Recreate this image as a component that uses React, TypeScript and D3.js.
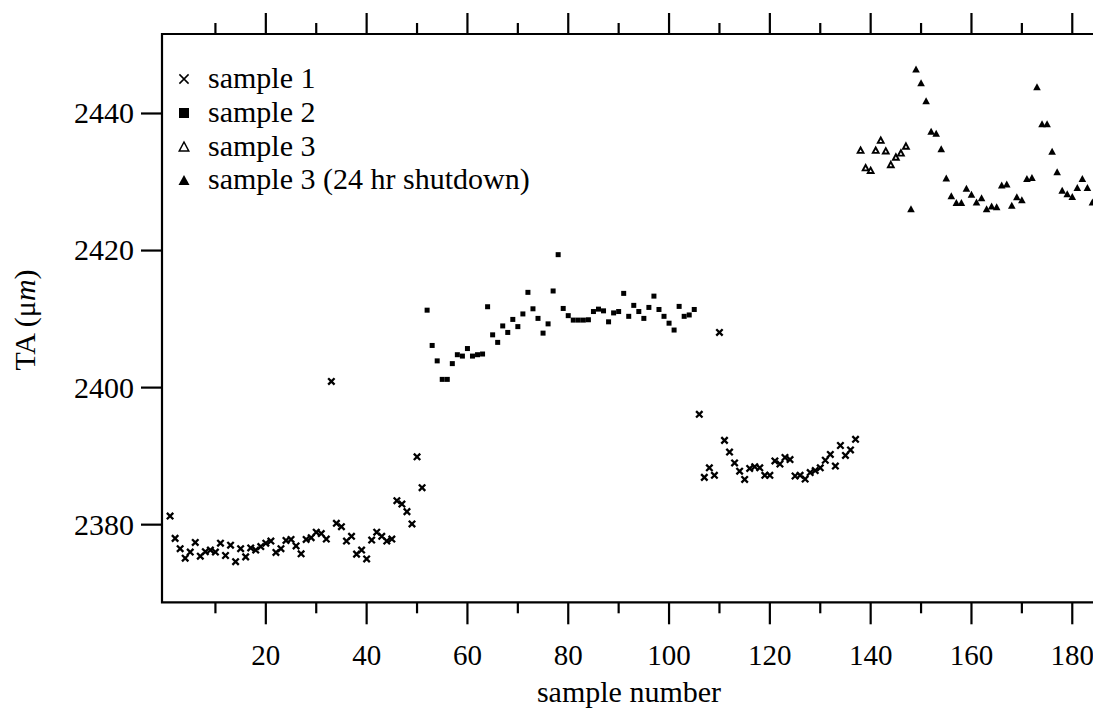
import React from "react";
import * as d3 from "d3";

// ---------- data ----------
const sample1aStart = 1;
const sample1aValues = [
  2381.25, 2378.0, 2376.5, 2375.1, 2376.0, 2377.4, 2375.4, 2376.05, 2376.3, 2376.0,
  2377.3, 2375.5, 2377.0, 2374.6, 2376.5, 2375.3, 2376.6, 2376.3, 2376.8, 2377.3,
  2377.6, 2375.95, 2376.5, 2377.7, 2377.85, 2376.9, 2375.75, 2377.85, 2378.1, 2378.9,
  2378.7, 2377.9, 2400.9, 2380.2, 2379.7, 2377.6, 2378.3, 2375.7, 2376.3, 2375.0,
  2377.75, 2378.9, 2378.3, 2377.6, 2377.9, 2383.5, 2383.0, 2381.9, 2380.1, 2389.9,
  2385.4,
];
const sample1bStart = 106;
const sample1bValues = [
  2396.1, 2386.9, 2388.3, 2387.2, 2408.05, 2392.3, 2390.6, 2389.0, 2387.8, 2386.6,
  2388.2, 2388.45, 2388.3, 2387.2, 2387.2, 2389.3, 2388.85, 2389.8, 2389.5, 2387.1,
  2387.2, 2386.65, 2387.6, 2387.9, 2388.3, 2389.4, 2390.25, 2388.55, 2391.55, 2390.1,
  2390.9, 2392.45,
];
const sample2Start = 52;
const sample2Values = [
  2411.3, 2406.15, 2403.9, 2401.2, 2401.2, 2403.5, 2404.8, 2404.6, 2405.7, 2404.6,
  2404.8, 2404.9, 2411.8, 2407.7, 2406.6, 2409.0, 2408.05, 2409.95, 2408.9, 2410.75,
  2413.9, 2411.5, 2410.1, 2407.95, 2409.3, 2414.1, 2419.4, 2411.55, 2410.5, 2409.85,
  2409.85, 2409.85, 2409.9, 2411.1, 2411.45, 2411.2, 2409.6, 2410.9, 2411.1, 2413.75,
  2410.4, 2412.0, 2411.1, 2410.1, 2411.7, 2413.35, 2411.4, 2410.4, 2409.4, 2408.4,
  2411.85, 2410.4, 2410.6, 2411.4,
];
const sample3Start = 138;
const sample3Values = [
  2434.65, 2432.1, 2431.7, 2434.65, 2436.1, 2434.55, 2432.55, 2433.65, 2434.25, 2435.25,
];
const sample3sStart = 148;
const sample3sValues = [
  2426.1, 2446.5, 2444.5, 2441.85, 2437.4, 2437.1, 2434.85, 2430.6, 2428.0, 2427.0,
  2427.0, 2429.1, 2428.2, 2427.1, 2427.7, 2426.1, 2426.5, 2426.4, 2429.55, 2429.7,
  2426.6, 2427.85, 2427.4, 2430.5, 2430.65, 2443.9, 2438.5, 2438.5, 2434.5, 2431.5,
  2428.8, 2428.3, 2427.9, 2429.2, 2430.5, 2429.2, 2427.1,
];

const xTickValues = [10, 20, 30, 40, 50, 60, 70, 80, 90, 100, 110, 120, 130, 140, 150, 160, 170, 180];
const xLabelValues = [20, 40, 60, 80, 100, 120, 140, 160, 180];
const yTickValues = [2380, 2400, 2420, 2440];
const legendLabels = ["sample 1", "sample 2", "sample 3", "sample 3 (24 hr shutdown)"];
const xTitle = "sample number";

// ---------- layout ----------
const W = 1093;
const H = 710;
const FONT = "'Liberation Serif', 'Times New Roman', Times, serif";

const xScale = d3.scaleLinear().domain([-0.6, 185.6]).range([162, 1100.5]);
const yScale = d3.scaleLinear().domain([2368.67, 2451.6]).range([602.3, 34]);

const toPoints = (start: number, values: number[]) =>
  values.map((v, i) => ({ n: start + i, v }));

const crossPath = (r: number) => `M${-r},${-r}L${r},${r}M${-r},${r}L${r},${-r}`;
const triPath = (w: number, h: number) =>
  `M0,${-h / 2}L${w / 2},${h / 2}L${-w / 2},${h / 2}Z`;

type MarkerKind = "x" | "sq" | "otri" | "tri";

function Marker({ kind, x, y, legend }: { kind: MarkerKind; x: number; y: number; legend?: boolean }) {
  const t = `translate(${x},${y})`;
  if (kind === "x") {
    return legend ? (
      <path d={crossPath(4.6)} transform={t} stroke="#000" strokeWidth={1.5} fill="none" />
    ) : (
      <path d={crossPath(3.2)} transform={t} stroke="#000" strokeWidth={2.3} fill="none" />
    );
  }
  if (kind === "sq") {
    const s = legend ? 10 : 5;
    return <rect x={x - s / 2} y={y - s / 2} width={s} height={s} fill="#000" />;
  }
  if (kind === "otri") {
    return legend ? (
      <path d={triPath(9.5, 9)} transform={t} stroke="#000" strokeWidth={1.5} fill="#fff" strokeLinejoin="miter" />
    ) : (
      <path d={triPath(5.8, 5.4)} transform={t} stroke="#000" strokeWidth={1.9} fill="#fff" strokeLinejoin="miter" />
    );
  }
  return legend ? (
    <path d={triPath(11, 10)} transform={t} fill="#000" />
  ) : (
    <path d={triPath(7.6, 7)} transform={t} fill="#000" />
  );
}

export default function App() {
  const [x0, x1] = xScale.range();
  const [yb, yt] = yScale.range();

  const series: { kind: MarkerKind; pts: { n: number; v: number }[] }[] = [
    { kind: "x", pts: toPoints(sample1aStart, sample1aValues) },
    { kind: "x", pts: toPoints(sample1bStart, sample1bValues) },
    { kind: "sq", pts: toPoints(sample2Start, sample2Values) },
    { kind: "otri", pts: toPoints(sample3Start, sample3Values) },
    { kind: "tri", pts: toPoints(sample3sStart, sample3sValues) },
  ];
  const legendKinds: MarkerKind[] = ["x", "sq", "otri", "tri"];
  const legendRows = [79, 113, 146.5, 180];

  return (
    <svg
      width={W}
      height={H}
      viewBox={`0 0 ${W} ${H}`}
      style={{ position: "absolute", left: 0, top: 0, background: "#fff", display: "block" }}
      fontFamily={FONT}
    >
      <rect x={0} y={0} width={W} height={H} fill="#fff" />

      {/* frame */}
      <path
        d={`M${x1},${yt}H${x0}V${yb}H${x1}`}
        fill="none"
        stroke="#000"
        strokeWidth={2.2}
      />

      {/* x ticks bottom & top */}
      {xTickValues.map((t) => {
        const major = t % 20 === 0;
        const x = xScale(t);
        return (
          <g key={`xt${t}`}>
            <line x1={x} x2={x} y1={yb} y2={yb + (major ? 22 : 11)} stroke="#000" strokeWidth={2.2} />
            <line x1={x} x2={x} y1={yt} y2={yt - (major ? 21 : 11)} stroke="#000" strokeWidth={2.2} />
          </g>
        );
      })}
      {xLabelValues.map((t) => (
        <text key={`xl${t}`} x={xScale(t)} y={665} textAnchor="middle" fontSize={29} fill="#000">
          {t}
        </text>
      ))}
      <text x={629} y={702} textAnchor="middle" fontSize={30} fill="#000">
        {xTitle}
      </text>

      {/* y ticks */}
      {yTickValues.map((t) => {
        const y = yScale(t);
        return (
          <g key={`yt${t}`}>
            <line x1={x0} x2={x0 - 21} y1={y} y2={y} stroke="#000" strokeWidth={2.2} />
            <text x={134} y={y} dy="0.33em" textAnchor="end" fontSize={30} fill="#000">
              {t}
            </text>
          </g>
        );
      })}
      <text
        transform={`translate(25,320) rotate(-90)`}
        dy="0.33em"
        textAnchor="middle"
        fontSize={30}
        fill="#000"
      >
        TA (μ<tspan fontStyle="italic">m</tspan>)
      </text>

      {/* data */}
      {series.map((s, si) => (
        <g key={`s${si}`}>
          {s.pts.map((p) => (
            <Marker key={`${si}-${p.n}`} kind={s.kind} x={xScale(p.n)} y={yScale(p.v)} />
          ))}
        </g>
      ))}

      {/* legend */}
      {legendLabels.map((lab, i) => (
        <g key={`lg${i}`}>
          <Marker kind={legendKinds[i]} x={184} y={legendRows[i]} legend />
          <text x={208} y={legendRows[i]} dy="0.3em" fontSize={30} fill="#000">
            {lab}
          </text>
        </g>
      ))}
    </svg>
  );
}
